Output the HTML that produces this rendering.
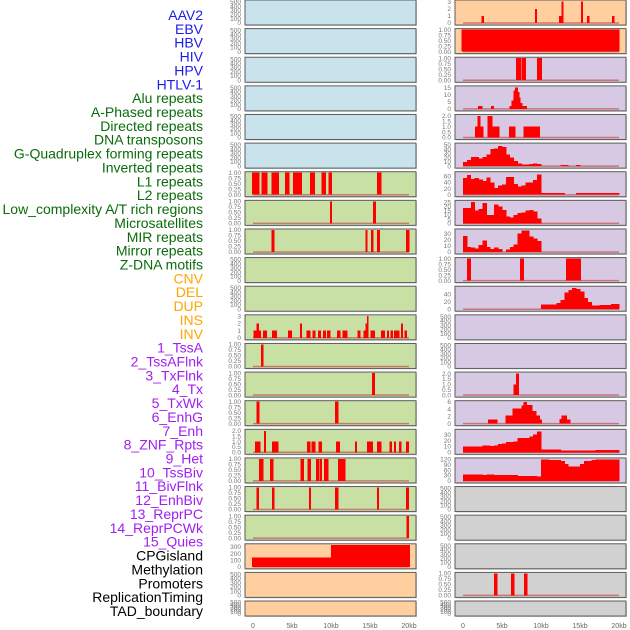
<!DOCTYPE html>
<html><head><meta charset="utf-8"><style>
html,body{margin:0;padding:0;background:#fff;}
svg{display:block;font-family:"Liberation Sans",sans-serif;}
</style></head><body>
<svg id="chart" width="630" height="630" viewBox="0 0 630 630" xmlns="http://www.w3.org/2000/svg"></svg>
<script>
// ---- data (kb positions, values) ----
const trackLabels=["AAV2","EBV","HBV","HIV","HPV","HTLV-1","Alu repeats","A-Phased repeats","Directed repeats","DNA transposons","G-Quadruplex forming repeats","Inverted repeats","L1 repeats","L2 repeats","Low_complexity A/T rich regions","Microsatellites","MIR repeats","Mirror repeats","Z-DNA motifs","CNV","DEL","DUP","INS","INV","1_TssA","2_TssAFlnk","3_TxFlnk","4_Tx","5_TxWk","6_EnhG","7_Enh","8_ZNF_Rpts","9_Het","10_TssBiv","11_BivFlnk","12_EnhBiv","13_ReprPC","14_ReprPCWk","15_Quies","CPGisland","Methylation","Promoters","ReplicationTiming","TAD_boundary"];
const xTickKb=[0,5,10,15,20];
const xTickLabels=["0","5kb","10kb","15kb","20kb"];

const ebvStart=[2.4,9.2,12.3,12.6,15.1,15.9,19.1];
const ebvEnd=[2.65,9.45,12.55,12.85,15.35,16.15,19.35];
const ebvVal=[1,2,1,3,3,1,1];
const hivStart=[-0.2], hivEnd=[20], hivVal=[1];
const htlvStart=[6.8,7.5,9.5], htlvEnd=[7.4,8.0,10.1], htlvVal=[1,1,1];
const aphStart=[1.92,3.59,5.94,6.24,6.5,6.66,7.01,7.18,7.35,7.6];
const aphEnd=[2.44,3.93,6.24,6.5,6.66,7.01,7.18,7.35,7.6,8.16];
const aphVal=[2,2,2,6,13,15,12,8,4,2];
const dnaStart=[1.54,1.84,2.18,3.16,3.76,5.9,7.73];
const dnaEnd=[1.84,2.18,2.56,3.76,4.61,6.66,9.83];
const dnaVal=[1,2,1,2,1,1,1];
const invBins=[10,15,22,22,18,22,27,40,42,48,45,28,20,12,6,4,4,5,6,5,0,0,0,0,0,3,3,0,0,3,0,0,0,0,0,0,0,0,0,0];
const l2Bins=[55,65,52,55,50,45,57,40,22,30,33,58,58,35,27,30,40,40,48,66,5,5,5,5,5,5,1,1,1,5,5,5,5,5,5,5,5,5,5,5];
const microBins=[18,18,25,15,17,24,10,10,22,20,16,8,7,10,12,13,15,16,14,6,0,0,0,0,0,0,0,0,0,0,0,0,0,0,0,0,0,0,0,0];
const mirBins=[26,8,7,6,11,19,8,5,7,5,0,4,8,12,30,35,35,25,22,18,0,0,0,0,0,0,0,0,0,0,0,0,0,0,0,0,0,0,0,0];
const zdnaStart=[0.5,7.3,13.2], zdnaEnd=[1.0,7.8,15.1], zdnaVal=[1,1,1];
const dupBins=[0,0,0,0,0,0,0,0,0,0,0,0,0,0,0,0,0,0,0,0,13,13,13,13,17,25,45,52,58,55,48,30,20,10,10,12,12,12,14,14];
const txStart=[6.5,6.8], txEnd=[6.8,7.1], txVal=[1,2];
const enhGStart=[3.2,5.42,6.37,7.52,7.74,8.16,8.89,9.36,9.79,12.4,12.6,13.3];
const enhGEnd=[4.4,6.37,7.52,7.74,8.16,8.89,9.36,9.79,10.09,12.6,13.3,13.7];
const enhGVal=[1.2,2.2,4.2,5,6,5.2,3.5,2.2,1.2,1.3,2.2,1.2];
const znfBins=[10,10,10,10,10,12,12,11,12,14,15,18,18,19,25,25,25,27,31,36,5,5,5,5,5,3,3,3,3,3,3,3,3,3,4,4,4,4,4,4];
const tssBivBins=[35,35,35,35,35,32,35,35,32,32,32,32,32,32,28,28,28,28,28,25,120,120,115,115,115,110,95,80,80,80,95,110,110,115,120,120,120,118,118,118];
const promStart=[3.97,6.15,7.8], promEnd=[4.36,6.54,8.2], promVal=[1,1,1];

const l1Start=[-0.1,1.1,2.4,4.1,5.1,7.3,8.8,9.7,15.9];
const l1End=[0.8,1.8,3.3,4.6,6.2,7.9,9.3,10.1,16.4];
const lowcStart=[9.9,15.4], lowcEnd=[10.1,15.7];
const mirRStart=[2.4,14.4,15.1,15.9,19.6], mirREnd=[2.7,14.6,15.4,16.2,20.0];
const insStart=[0.05,0.47,0.73,1.3,2.44,4.49,6.0,6.88,7.65,8.33,9.0,9.5,10.77,11.45,13.4,14.15,14.4,14.6,15.04,16.4,17.2,17.6,18.1,19.0,19.4];
const insEnd=[0.47,0.73,1.0,1.75,3.03,4.96,6.24,7.3,7.95,8.68,9.3,9.87,11.15,12.05,13.7,14.4,14.6,14.75,15.6,16.9,17.4,17.9,18.7,19.2,19.7];
const insVal=[1,2,1,1,1,1,2,1,1,1,1,1,1,1,1,1,2,3,1,1,1,1,1,2,1];
const tssAStart=[1.0], tssAEnd=[1.28];
const txFStart=[15.25], txFEnd=[15.6];
const txWkStart=[0.47,10.5], txWkEnd=[0.77,10.9];
const enhStart=[0.26,1.4,2.44,6.9,7.5,8.4,10.64,13.1,14.6,15.9,17.5,18.1,18.7,19.6];
const enhEnd=[0.9,1.6,3.2,7.3,7.95,8.8,11.1,13.3,15.35,16.4,17.8,18.3,19.0,19.95];
const enhVal=[1,2,1,1,1,1,1,1,1,1,1,1,1,1];
const hetStart=[0.77,2.2,6.1,7.0,8.07,8.6,9.1,10.9], hetEnd=[1.28,2.6,6.5,7.4,8.5,8.8,9.6,11.8];
const bivStart=[0.43,2.44,7.2,10.5,15.9,19.6], bivEnd=[0.73,2.7,7.4,10.9,16.1,19.95];
const reprStart=[19.65], reprEnd=[19.95];
const quiesStart=[-0.1,10], quiesEnd=[10,20.1], quiesVal=[140,333];

// ---- layout ----
const svg=document.getElementById('chart');
const NS="http://www.w3.org/2000/svg";
const COLX=[[245,416,253],[455,626,463]];
const PXKB=7.8;
function mk(tag,attrs,parent){const e=document.createElementNS(NS,tag);for(const k in attrs)e.setAttribute(k,attrs[k]);(parent||svg).appendChild(e);return e;}
const BG={b:"#c9e3ec",g:"#c9e0a5",o:"#ffcf9f",p:"#d7c8e3",k:"#d1d1d1"};
const ones=a=>a.map(()=>1);
const P01={ymax:1,ticks:[0,0.25,0.5,0.75,1],dec:2};
const E={ymax:520,ticks:[0,100,200,300,400,500],dec:0};
function seg(s,e,v){return {s:s,e:e,v:v};}
function bins(b){return {s:b.map((_,i)=>i*0.5),e:b.map((_,i)=>i*0.5+0.5),v:b};}
const panels=[
[0,0,'b',E,null],[0,1,'o',{ymax:3.1,ticks:[0,1,2,3],dec:0},seg(ebvStart,ebvEnd,ebvVal)],
[1,0,'b',E,null],[1,1,'o',P01,seg(hivStart,hivEnd,hivVal)],
[2,0,'b',E,null],[2,1,'p',P01,seg(htlvStart,htlvEnd,htlvVal)],
[3,0,'b',E,null],[3,1,'p',{ymax:15.5,ticks:[0,5,10,15],dec:0},seg(aphStart,aphEnd,aphVal)],
[4,0,'b',E,null],[4,1,'p',{ymax:2.05,ticks:[0,0.5,1,1.5,2],dec:1},seg(dnaStart,dnaEnd,dnaVal)],
[5,0,'b',E,null],[5,1,'p',{ymax:52,ticks:[0,10,20,30,40,50],dec:0},bins(invBins)],
[6,0,'g',P01,seg(l1Start,l1End,ones(l1Start))],[6,1,'p',{ymax:72,ticks:[0,20,40,60],dec:0},bins(l2Bins)],
[7,0,'g',P01,seg(lowcStart,lowcEnd,ones(lowcStart))],[7,1,'p',{ymax:26,ticks:[0,5,10,15,20,25],dec:0},bins(microBins)],
[8,0,'g',P01,seg(mirRStart,mirREnd,ones(mirRStart))],[8,1,'p',{ymax:36,ticks:[0,10,20,30],dec:0},bins(mirBins)],
[9,0,'g',E,null],[9,1,'p',P01,seg(zdnaStart,zdnaEnd,zdnaVal)],
[10,0,'g',E,null],[10,1,'p',{ymax:60,ticks:[0,20,40],dec:0},bins(dupBins)],
[11,0,'g',{ymax:3.05,ticks:[0,1,2,3],dec:0},seg(insStart,insEnd,insVal)],[11,1,'p',E,null],
[12,0,'g',P01,seg(tssAStart,tssAEnd,[1])],[12,1,'p',E,null],
[13,0,'g',P01,seg(txFStart,txFEnd,[1])],[13,1,'p',{ymax:2.05,ticks:[0,0.5,1,1.5,2],dec:1},seg(txStart,txEnd,txVal)],
[14,0,'g',P01,seg(txWkStart,txWkEnd,[1,1])],[14,1,'p',{ymax:6.1,ticks:[0,2,4,6],dec:0},seg(enhGStart,enhGEnd,enhGVal)],
[15,0,'g',{ymax:2.05,ticks:[0,0.5,1,1.5,2],dec:1},seg(enhStart,enhEnd,enhVal)],[15,1,'p',{ymax:38,ticks:[0,10,20,30],dec:0},bins(znfBins)],
[16,0,'g',P01,seg(hetStart,hetEnd,ones(hetStart))],[16,1,'p',{ymax:122,ticks:[0,30,60,90,120],dec:0},bins(tssBivBins)],
[17,0,'g',P01,seg(bivStart,bivEnd,ones(bivStart))],[17,1,'k',E,null],
[18,0,'g',P01,seg(reprStart,reprEnd,[1])],[18,1,'k',E,null],
[19,0,'o',{ymax:333,ticks:[0,100,200,300],dec:0},seg(quiesStart,quiesEnd,quiesVal)],[19,1,'k',E,null],
[20,0,'o',E,null],[20,1,'k',P01,seg(promStart,promEnd,promVal)],
[21,0,'o',E,null],[21,1,'k',E,null]
];

const LABCOL=i=>i<6?"#1c1ce8":i<19?"#0b6b0b":i<24?"#ffa500":i<39?"#a020f0":"#000";
trackLabels.forEach((t,i)=>{
  const tx=mk('text',{x:203,y:15+i*13.86+5,'text-anchor':'end','font-size':14,fill:LABCOL(i)});
  
  
  tx.textContent=t;
});

panels.forEach(p=>{
  const [row,col,bg,ax,ser]=p;
  const y0=row*28.62, h=row===21?15:25;
  const [xl,xr,x0]=COLX[col];
  const g=mk('g',{});
  
  
  mk('rect',{x:xl+1,y:y0+1,width:xr-xl,height:h,fill:'#aaa',opacity:0.5},g);
  mk('rect',{x:xl,y:y0,width:xr-xl,height:h,fill:BG[bg],stroke:'#5c5c5c','stroke-width':1},g);
  const yb=y0+h-2, yt=y0+1;
  const ys=v=>yb-v/ax.ymax*(yb-yt);
  const xs=kb=>x0+kb*PXKB;
  ax.ticks.forEach(tv=>{
    const t=mk('text',{x:xl-4,y:ys(tv)+2.2,'text-anchor':'end','font-size':6.5,fill:'#777'},g);
    
    
    t.textContent=tv.toFixed(ax.dec);
  });
  if(ser){
    mk('line',{x1:xs(0),x2:xs(20),y1:yb,y2:yb,stroke:'#c86060','stroke-width':1.5,opacity:0.8},g);
    ser.v.forEach((v,i)=>{
      if(v<=0)return;
      const r=mk('rect',{x:xs(ser.s[i]),y:ys(v),width:Math.max(1.5,(ser.e[i]-ser.s[i])*PXKB+0.4),height:yb-ys(v),fill:'#ff0000','shape-rendering':'crispEdges'},g);
      
      
    });
  }
});

[0,1].forEach(col=>{
  const x0=COLX[col][2];
  xTickKb.forEach((k,i)=>{
    const t=mk('text',{x:x0+k*PXKB,y:628,'text-anchor':'middle','font-size':7,fill:'#666'});
    
    
    t.textContent=xTickLabels[i];
  });
});
</script>
</body></html>
